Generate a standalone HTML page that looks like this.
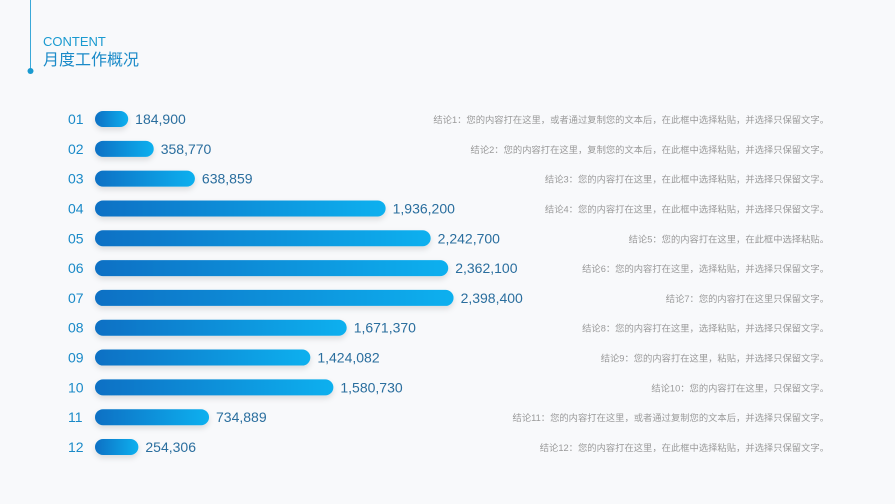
<!DOCTYPE html>
<html><head><meta charset="utf-8">
<style>
html,body{margin:0;padding:0;background:#f8f9fb;}
body{width:895px;height:504px;position:relative;overflow:hidden;font-family:"Liberation Sans","Noto Sans CJK SC",sans-serif;}
svg{position:absolute;left:0;top:0;}
</style></head>
<body>
<svg width="895" height="504">
  <defs>
    <linearGradient id="g" x1="0" x2="1" y1="0" y2="0">
      <stop offset="0" stop-color="#0870c4"/>
      <stop offset="1" stop-color="#10b0ef"/>
    </linearGradient>
    <filter id="sh" x="-10%" y="-60%" width="120%" height="260%">
      <feDropShadow dx="0" dy="3" stdDeviation="3" flood-color="#000" flood-opacity="0.12"/>
    </filter>
  </defs>
  <line x1="30.5" y1="0" x2="30.5" y2="70" stroke="#3aa8d8" stroke-width="1"/>
  <circle cx="30.5" cy="71" r="3" fill="#1a9ad0"/>
  <text x="43" y="46" font-size="13" fill="#1a9ad0">CONTENT</text>
  <text x="43" y="65" font-size="16" fill="#1a8ac8">月度工作概况</text>
  <g id="rows"></g>
</svg>
<script>
const categories = ["01","02","03","04","05","06","07","08","09","10","11","12"];
const values = [184900,358770,638859,1936200,2242700,2362100,2398400,1671370,1424082,1580730,734889,254306];
const notes = [
"结论1：您的内容打在这里，或者通过复制您的文本后，在此框中选择粘贴，并选择只保留文字。",
"结论2：您的内容打在这里，复制您的文本后，在此框中选择粘贴，并选择只保留文字。",
"结论3：您的内容打在这里，在此框中选择粘贴，并选择只保留文字。",
"结论4：您的内容打在这里，在此框中选择粘贴，并选择只保留文字。",
"结论5：您的内容打在这里，在此框中选择粘贴。",
"结论6：您的内容打在这里，选择粘贴，并选择只保留文字。",
"结论7：您的内容打在这里只保留文字。",
"结论8：您的内容打在这里，选择粘贴，并选择只保留文字。",
"结论9：您的内容打在这里，粘贴，并选择只保留文字。",
"结论10：您的内容打在这里，只保留文字。",
"结论11：您的内容打在这里，或者通过复制您的文本后，并选择只保留文字。",
"结论12：您的内容打在这里，在此框中选择粘贴，并选择只保留文字。"
];
const NS="http://www.w3.org/2000/svg";
const x0=95, barH=16;
function xScale(v){return x0+6+v*0.000147;}
function yScale(i){return 119+i*29.82;}
const g=document.getElementById('rows');
function mk(tag,attrs,txt){const e=document.createElementNS(NS,tag);for(const k in attrs)e.setAttribute(k,attrs[k]);if(txt!==undefined)e.textContent=txt;g.appendChild(e);return e;}
categories.forEach((c,i)=>{
  const y=yScale(i), xe=xScale(values[i]);
  const lab=mk('text',{x:68,y:y+5,'font-size':14,fill:'#1a8ac8'},c);
  
  
  const r=mk('rect',{x:x0,y:y-barH/2,width:xe-x0,height:barH,rx:8,fill:'url(#g)',filter:'url(#sh)'});
  
  
  const v=mk('text',{x:xe+7,y:y+5,'font-size':14,fill:'#2a6e9e'},values[i].toLocaleString('en-US'));
  
  
  const n=mk('text',{x:829,y:y+4,'font-size':9.3,fill:'#9a9a9a','text-anchor':'end'},notes[i]);
  
  
});
</script>
</body></html>
